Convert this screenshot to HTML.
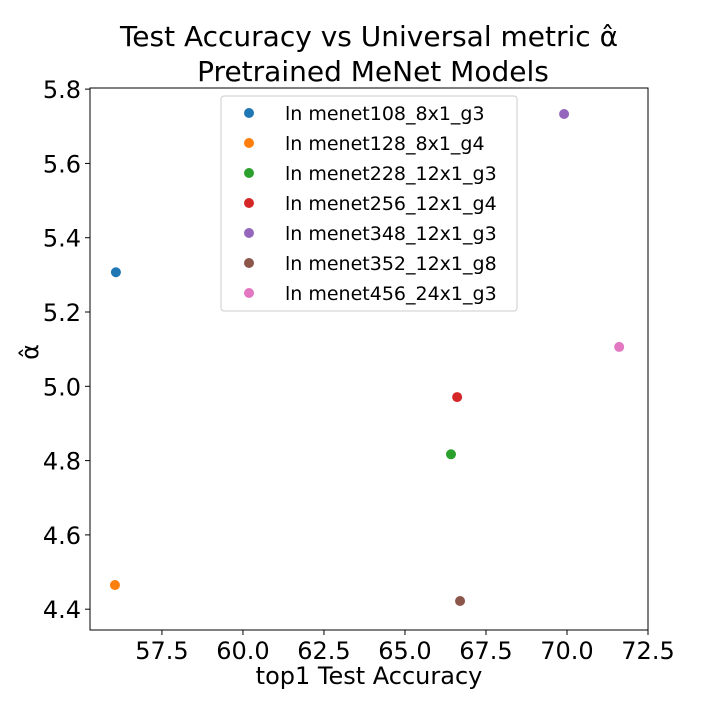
<!DOCTYPE html>
<html><head><meta charset="utf-8"><style>
body{margin:0;background:#fff;}
svg{font-family:"DejaVu Sans","Liberation Sans",sans-serif;}
</style></head><body>
<svg id="chart" width="720" height="720"></svg>
<script>
const labels=["ln menet108_8x1_g3","ln menet128_8x1_g4","ln menet228_12x1_g3","ln menet256_12x1_g4","ln menet348_12x1_g3","ln menet352_12x1_g8","ln menet456_24x1_g3"];
const xValues=[56.08,56.05,66.42,66.61,69.91,66.70,71.61];
const yValues=[5.307,4.465,4.817,4.971,5.733,4.422,5.106];
const colors=["#1f77b4","#ff7f0e","#2ca02c","#d62728","#9467bd","#8c564b","#e377c2"];
const xTicks=[57.5,60.0,62.5,65.0,67.5,70.0,72.5];
const yTicks=[4.4,4.6,4.8,5.0,5.2,5.4,5.6,5.8];
const L=90,R=648,T=88,B=630;
const xMin=55.28,xMax=72.5,yMin=4.344,yMax=5.803;
const sx=v=>L+(v-xMin)/(xMax-xMin)*(R-L);
const sy=v=>B-(v-yMin)/(yMax-yMin)*(B-T);
const NS="http://www.w3.org/2000/svg";
const svg=document.getElementById('chart');
function mk(tag,attrs,text){const e=document.createElementNS(NS,tag);for(const k in attrs)e.setAttribute(k,attrs[k]);if(text!==undefined)e.textContent=text;svg.appendChild(e);return e;}
let e;
e=mk('text',{x:369,y:46,'font-size':28,'text-anchor':'middle'},'Test Accuracy vs Universal metric α̂');


e=mk('text',{x:373,y:81,'font-size':28,'text-anchor':'middle'},'Pretrained MeNet Models');


e=mk('rect',{x:L,y:T,width:R-L,height:B-T,fill:'none',stroke:'#000','stroke-width':1});


xTicks.forEach(t=>{
 e=mk('line',{x1:sx(t),x2:sx(t),y1:B,y2:B+5,stroke:'#000'});
 
 
 e=mk('text',{x:sx(t),y:B+29,'font-size':24,'text-anchor':'middle'},t.toFixed(1));
 
 
});
yTicks.forEach(t=>{
 e=mk('line',{x1:L-5,x2:L,y1:sy(t),y2:sy(t),stroke:'#000'});
 
 
 e=mk('text',{x:L-9,y:sy(t)+9,'font-size':24,'text-anchor':'end'},t.toFixed(1));
 
 
});
e=mk('text',{x:369,y:684,'font-size':24,'text-anchor':'middle'},'top1 Test Accuracy');


e=mk('text',{x:38,y:352,'font-size':24,'text-anchor':'middle',transform:'rotate(-90 38 352)'},'α̂');


xValues.forEach((v,i)=>{
 e=mk('circle',{cx:sx(v),cy:sy(yValues[i]),r:5,fill:colors[i]});
 
 
});
e=mk('rect',{x:221,y:96,width:296,height:215,fill:'#fff','fill-opacity':0.8,stroke:'#ccc',rx:3});


labels.forEach((l,i)=>{
 const y=113+i*30;
 e=mk('circle',{cx:249,cy:y,r:5,fill:colors[i]});
 
 
 e=mk('text',{x:285,y:y+7,'font-size':19},l);
 
 
});
</script>
</body></html>
